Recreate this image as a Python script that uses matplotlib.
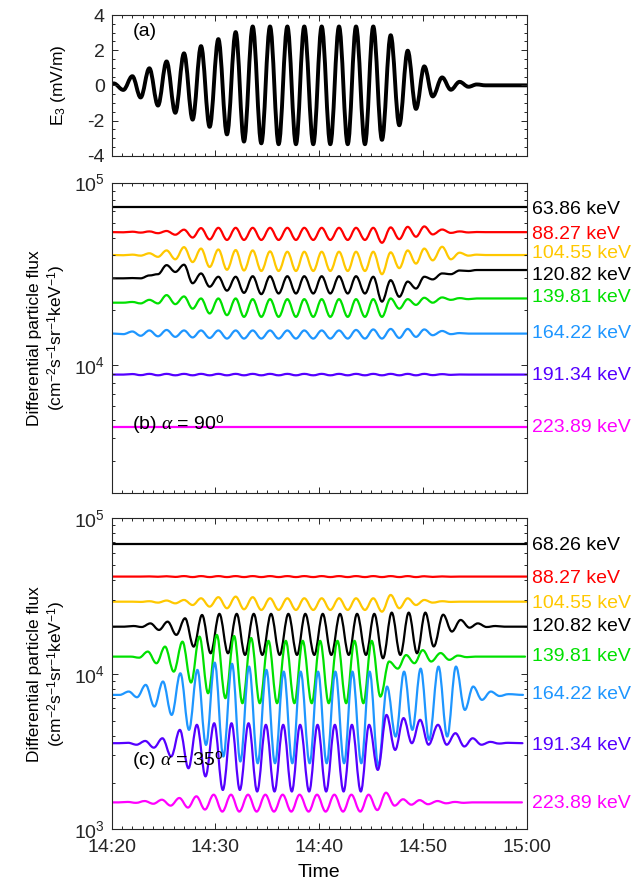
import numpy as np
import matplotlib
matplotlib.use("Agg")
import matplotlib.pyplot as plt
import matplotlib.transforms as mtransforms
from matplotlib.path import Path
from matplotlib.patches import PathPatch
from matplotlib.ticker import MultipleLocator, LogLocator, NullFormatter, FixedLocator

plt.rcParams['font.family'] = ['Liberation Sans', 'DejaVu Sans']
plt.rcParams['mathtext.fontset'] = 'custom'
plt.rcParams['mathtext.rm'] = 'Liberation Sans'
plt.rcParams['mathtext.it'] = 'Liberation Serif:italic'
plt.rcParams['axes.unicode_minus'] = False
plt.rcParams['font.size'] = 14

# times of the wave crests/troughs, minutes after 14:20 (first and last entries are the ends)
t_ext = [0.0, 0.2, 1.13, 2.0, 2.8, 3.64, 4.47, 5.3, 6.14,
         6.98, 7.81, 8.62, 9.45, 10.29, 11.12, 11.96, 12.76,
         13.6, 14.43, 15.27, 16.1, 16.94, 17.77, 18.57, 19.44,
         20.25, 21.08, 21.92, 22.76, 23.56, 24.42, 25.22, 26.06,
         26.9, 27.73, 28.54, 29.34, 30.14, 30.95, 31.86, 32.7,
         33.54, 34.4, 35.2, 36.05, 36.9, 37.75, 38.6, 40.0]

# (a) E3 in mV/m at those times
e3 = [0.05, 0.11, -0.26, 0.52, -0.69, 0.97, -1.15, 1.36, -1.56,
      1.82, -1.95, 2.23, -2.36, 2.63, -2.79, 3.03, -3.2,
      3.35, -3.3, 3.35, -3.35, 3.35, -3.35, 3.35, -3.35,
      3.35, -3.35, 3.35, -3.35, 3.35, -3.35, 3.35, -3.1,
      2.85, -2.27, 1.97, -1.34, 1.08, -0.63, 0.45, -0.25,
      0.2, -0.08, 0.05, 0.0, 0.0, 0.0, 0.0, 0.0]

# (b) alpha = 90 deg, flux in cm^-2 s^-1 sr^-1 keV^-1
b_63 = 73800
b_88 = [53500, 53500, 53400, 53800, 53200, 54000, 52800, 54300, 51800,
        55200, 50000, 56300, 48800, 56500, 48500, 56500, 48500,
        56500, 48500, 56500, 48500, 56500, 48500, 56500, 48500,
        56500, 48500, 56500, 48500, 56500, 48500, 56500, 46800,
        56800, 49000, 57200, 50500, 57500, 52000, 55300, 53000,
        54000, 53300, 53600, 53500, 53500, 53500, 53500, 53500]
b_104 = [40100, 40100, 40000, 40300, 39800, 41000, 39200, 42500, 38000,
         44300, 36700, 43500, 34500, 43000, 33300, 42700, 33000,
         42500, 32800, 42000, 32800, 41800, 32800, 41800, 32800,
         41800, 32800, 41800, 32800, 41800, 32800, 41800, 31500,
         41500, 34000, 42500, 36000, 43500, 37500, 44500, 38000,
         41300, 39800, 40300, 40100, 40100, 40100, 40100, 40100]
b_120 = [29900, 29900, 29900, 30000, 29900, 31000, 31500, 35300, 32400,
         35500, 28100, 31800, 26900, 30500, 25600, 30500, 24900,
         30700, 24500, 30700, 24700, 30700, 24700, 30700, 24700,
         30700, 24700, 30700, 24700, 30700, 24700, 30500, 22300,
         29200, 23700, 28700, 26300, 30500, 29500, 31800, 31500,
         33000, 32800, 33200, 33200, 33200, 33200, 33200, 33200]
b_139 = [22000, 22000, 22000, 22200, 21800, 22800, 21800, 24200, 21600,
         23800, 20400, 23200, 19200, 23200, 18800, 23200, 18400,
         23000, 18400, 23000, 18400, 23000, 18400, 23000, 18400,
         23000, 18400, 23000, 18400, 23000, 18400, 23000, 18400,
         23200, 20400, 23000, 21400, 23400, 22000, 23500, 22800,
         23300, 23000, 23200, 23200, 23200, 23200, 23200, 23200]
b_164 = [14900, 14900, 14800, 15300, 14500, 15500, 14400, 15600, 14300,
         15500, 14200, 15500, 14100, 15500, 14000, 15500, 14000,
         15500, 14000, 15500, 14000, 15500, 14000, 15500, 14000,
         15500, 14000, 15500, 14000, 15600, 14000, 15700, 14000,
         15800, 14100, 15800, 14300, 15700, 14600, 15400, 14800,
         15000, 14900, 14900, 14900, 14900, 14900, 14900, 14900]
b_191 = [8890, 8890, 8890, 8950, 8830, 8970, 8810, 8970, 8810,
         8970, 8810, 8970, 8810, 8970, 8810, 8970, 8810,
         8970, 8810, 8970, 8810, 8970, 8810, 8970, 8810,
         8970, 8810, 8970, 8810, 8970, 8810, 8970, 8810,
         8970, 8810, 8970, 8810, 8970, 8830, 8940, 8860,
         8900, 8890, 8890, 8890, 8890, 8890, 8890, 8890]
b_223 = 4590

# (c) alpha = 35 deg
c_68 = 68400
c_88 = [42200, 42200, 42200, 42200, 42200, 42300, 42100, 42400, 42000,
        42500, 41900, 42500, 41900, 42500, 41900, 42500, 41900,
        42500, 41900, 42500, 41900, 42500, 41900, 42500, 41900,
        42500, 41900, 42500, 41900, 42500, 41900, 42500, 41900,
        42500, 41900, 42500, 41900, 42400, 42000, 42300, 42100,
        42200, 42200, 42200, 42200, 42200, 42200, 42200, 42200]
c_104 = [29100, 29100, 29100, 29100, 29000, 29300, 28700, 29600, 28400,
         29850, 27700, 30600, 27050, 31100, 26400, 31370, 26000,
         31100, 25750, 30600, 25750, 30600, 25750, 30600, 25750,
         30600, 25750, 30600, 25750, 30600, 25750, 30600, 25100,
         32150, 26400, 30600, 27700, 29850, 28700, 29300, 29000,
         29100, 29100, 29100, 29100, 29100, 29100, 29100, 29100]
c_120 = [20100, 20100, 20100, 20300, 20000, 21100, 19150, 21650, 17800,
         22760, 14960, 23900, 13560, 24300, 13560, 24300, 13230,
         24300, 13230, 24300, 13230, 24300, 13230, 24300, 13230,
         24300, 13230, 24300, 13230, 24300, 13230, 24300, 12590,
         24750, 13230, 24750, 13560, 24750, 15000, 24000, 18700,
         22200, 19800, 21100, 20000, 20300, 20100, 20100, 20100]
c_139 = [12900, 12900, 12900, 12900, 12700, 13900, 11690, 14960, 10330,
         16100, 8790, 17350, 7500, 17800, 6970, 17500, 6470,
         17000, 6470, 16300, 6470, 16300, 6470, 16300, 6470,
         16300, 6470, 16300, 6470, 16300, 6470, 16300, 7140,
         12000, 10800, 13200, 11700, 14200, 12000, 13600, 12300,
         13100, 12800, 12900, 12900, 12900, 12900, 12900, 12900]
c_164 = [7320, 7320, 7320, 7690, 7070, 8490, 6160, 8920, 5440,
         10080, 4360, 10600, 3490, 11800, 2940, 11600, 2730,
         11130, 2660, 10600, 2660, 10330, 2660, 10330, 2660,
         10330, 2660, 10330, 2660, 10330, 2660, 10330, 2550,
         8280, 3950, 10330, 4360, 10800, 3760, 11130, 3950,
         11130, 5860, 8280, 6800, 7690, 7200, 7400, 7320]
c_191 = [3580, 3580, 3580, 3600, 3500, 3700, 3350, 3850, 2940,
         4360, 2470, 4700, 2190, 4810, 1790, 4810, 1790,
         4810, 1750, 4700, 1750, 4700, 1750, 4700, 1750,
         4700, 1750, 4700, 1750, 4700, 1750, 4700, 2410,
         5440, 3240, 5190, 3580, 5060, 3500, 4700, 3500,
         4150, 3410, 3850, 3500, 3650, 3560, 3600, 3580]
c_223 = [1490, 1490, 1490, 1500, 1480, 1520, 1460, 1550, 1420,
         1590, 1380, 1630, 1340, 1670, 1300, 1670, 1300,
         1670, 1300, 1670, 1300, 1670, 1300, 1670, 1300,
         1670, 1300, 1670, 1300, 1670, 1300, 1670, 1330,
         1720, 1420, 1560, 1440, 1540, 1450, 1520, 1470,
         1500, 1480, 1490, 1490, 1490, 1490, 1490, 1490]

# phase shift of each (c) channel relative to t_ext, minutes
lag_c = [0.0, 0.0, 0.0, 0.1, -0.15, -0.35, -0.4, -0.45]

energies_b = ['63.86 keV', '88.27 keV', '104.55 keV', '120.82 keV',
              '139.81 keV', '164.22 keV', '191.34 keV', '223.89 keV']
energies_c = ['68.26 keV', '88.27 keV', '104.55 keV', '120.82 keV',
              '139.81 keV', '164.22 keV', '191.34 keV', '223.89 keV']
series_b = [b_63, b_88, b_104, b_120, b_139, b_164, b_191, b_223]
series_c = [c_68, c_88, c_104, c_120, c_139, c_164, c_191, c_223]

# where the channel names sit on the right-hand side
label_y_b = [71400, 51700, 40960, 31170, 23400, 14920, 8815, 4590]
label_y_c = [66400, 41140, 28400, 20110, 12890, 7310, 3435, 1470]

colors = ['black', '#ff0000', '#ffc800', 'black', '#00e000', '#1e96ff', '#5500ff', '#ff00ff']

xticks = [0, 10, 20, 30, 40]
xticklabels = ['14:20', '14:30', '14:40', '14:50', '15:00']

K = 0.364  # bezier handle length giving a sine-like shape between crests


def wave(ax, t, y, color, lw):
    t = np.clip(np.asarray(t, float), 0, 40)
    y = np.asarray(y, float)
    verts = [(t[0], y[0])]
    codes = [Path.MOVETO]
    for i in range(len(t) - 1):
        dt = t[i + 1] - t[i]
        verts += [(t[i] + K * dt, y[i]), (t[i + 1] - K * dt, y[i + 1]), (t[i + 1], y[i + 1])]
        codes += [Path.CURVE4] * 3
    ax.add_patch(PathPatch(Path(verts, codes), fill=False, edgecolor=color,
                           lw=lw, joinstyle='round', capstyle='round'))


def style(ax):
    for s in ax.spines.values():
        s.set_linewidth(0.8)
        s.set_color('#262626')
    ax.tick_params(which='both', direction='in', top=True, right=True,
                   colors='#262626', labelsize=14, width=0.7)
    ax.tick_params(which='major', length=4.5)
    ax.tick_params(which='minor', length=2.2)
    ax.tick_params(axis='x', pad=7)
    ax.tick_params(axis='y', pad=5)
    ax.set_xlim(0, 40)
    ax.xaxis.set_major_locator(FixedLocator(xticks))
    ax.xaxis.set_minor_locator(MultipleLocator(1))


fig = plt.figure(figsize=(6.33, 8.83), dpi=100)
left, width = 0.1763, 0.6556
ax_a = fig.add_axes([left, 0.8237, width, 0.1593])
ax_b = fig.add_axes([left, 0.4417, width, 0.3516])
ax_c = fig.add_axes([left, 0.0608, width, 0.3522])

# (a) wave electric field
wave(ax_a, t_ext, e3, 'black', 2.8)
style(ax_a)
ax_a.set_ylim(-4, 4)
ax_a.set_yticks([-4, -2, 0, 2, 4])
ax_a.yaxis.set_minor_locator(MultipleLocator(0.5))
ax_a.set_xticklabels([])
ax_a.set_ylabel('E$_3$ (mV/m)', fontsize=12.5)
ax_a.text(0.05, 0.88, '(a)', transform=ax_a.transAxes, va='center', ha='left')

flux_label = 'Differential particle flux\n(cm$^{-2}$s$^{-1}$sr$^{-1}$keV$^{-1}$)'

for ax, series, names, lab_y, lags, ylo, tag in [
        (ax_b, series_b, energies_b, label_y_b, [0.0] * 8, 2000, '(b) $\\alpha$ = 90$^{\\rm o}$'),
        (ax_c, series_c, energies_c, label_y_c, lag_c, 1000, '(c) $\\alpha$ = 35$^{\\rm o}$')]:
    ax.set_yscale('log')
    for vals, col, lag in zip(series, colors, lags):
        if np.ndim(vals) == 0:
            ax.plot([0, 40], [vals, vals], color=col, lw=1.6)
        else:
            wave(ax, np.asarray(t_ext) + lag, vals, col, 1.6)
    style(ax)
    ax.set_ylim(ylo, 1e5)
    ax.yaxis.set_major_locator(LogLocator(base=10, numticks=10))
    ax.yaxis.set_minor_locator(LogLocator(base=10, subs=np.arange(2, 10), numticks=20))
    ax.yaxis.set_minor_formatter(NullFormatter())
    ax.set_ylabel(flux_label, fontsize=12.5)
    trans = mtransforms.blended_transform_factory(ax.transAxes, ax.transData)
    for name, col, yl in zip(names, colors, lab_y):
        ax.text(1.012, yl, name, color=col, transform=trans, va='center',
                ha='left', clip_on=False)
    ax.text(0.05, 0.218, tag, transform=ax.transAxes, va='center', ha='left', zorder=5)

ax_b.set_xticklabels([])
ax_c.set_xticklabels(xticklabels)
ax_c.set_xlabel('Time', labelpad=6)

for ax in (ax_a, ax_b, ax_c):
    ax.yaxis.set_label_coords(-0.106, 0.5)

fig.savefig('out.png', dpi=100)
